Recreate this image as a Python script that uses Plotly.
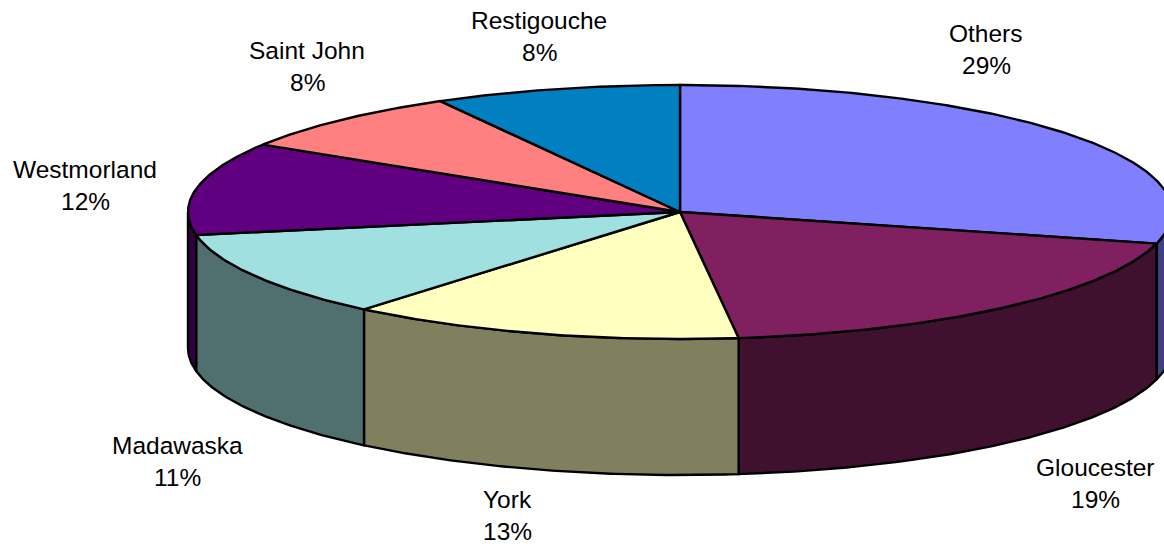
import math
import plotly.graph_objects as go

# Data
regions = ["Others", "Gloucester", "York", "Madawaska", "Westmorland", "Saint John", "Restigouche"]
shares = [29.0, 19.1, 13.0, 11.0, 11.8, 8.0, 8.1]

# Styles
top_colors = ["#8080FF", "#802060", "#FFFFC0", "#A0E0E0", "#600080", "#FF8080", "#0080C0"]
side_colors = ["#40407F", "#40102F", "#80805F", "#50706F", "#300040", "#7F4040", "#004060"]
label_pos = [(986, 33), (1095, 467), (507, 499), (177, 445), (85, 169), (307, 50), (539, 20)]
CX, CY, RX, RY, DEPTH = 680, 212, 492, 127, 136
FONT = dict(family="Liberation Sans, Arial, sans-serif", size=24.5, color="#000000")
LINE = dict(color="#000000", width=2.4)


def rim(t0, t1, dy=0.0):
    n = max(2, int(abs(t1 - t0) * 2) + 2)
    xs, ys = [], []
    for i in range(n):
        t = math.radians(t0 + (t1 - t0) * i / (n - 1))
        xs.append(CX + RX * math.sin(t))
        ys.append(CY - RY * math.cos(t) + dy)
    return xs, ys


total = sum(shares)
spans = []
a = 0.0
for s in shares:
    spans.append((a, a + 360.0 * s / total))
    a += 360.0 * s / total

fig = go.Figure()

# Visible wall of the pie: angles between 90 and 270 degrees
for (t0, t1), col, name in zip(spans, side_colors, regions):
    lo, hi = max(t0, 90), min(t1, 270)
    if hi <= lo:
        continue
    xt, yt = rim(lo, hi)
    xb, yb = rim(hi, lo, DEPTH)
    fig.add_trace(go.Scatter(x=xt + xb + xt[:1], y=yt + yb + yt[:1], mode="lines", fill="toself",
                             fillcolor=col, line=LINE, hoverinfo="skip", name=name + " side"))

# Top face
for (t0, t1), col, name, s in zip(spans, top_colors, regions, shares):
    xr, yr = rim(t0, t1)
    fig.add_trace(go.Scatter(x=[CX] + xr + [CX], y=[CY] + yr + [CY], mode="lines", fill="toself",
                             fillcolor=col, line=LINE, name=name,
                             hovertemplate=f"{name}: {round(s)}%<extra></extra>"))

# Labels: name and percentage
for name, s, (lx, ly) in zip(regions, shares, label_pos):
    for text, yy in ((name, ly), (f"{round(s)}%", ly + 32)):
        fig.add_annotation(x=lx, y=yy, text=text, showarrow=False, font=FONT,
                           xanchor="center", yanchor="middle")

fig.update_layout(
    width=1164, height=547, margin=dict(l=0, r=0, t=0, b=0), showlegend=False,
    paper_bgcolor="#FFFFFF", plot_bgcolor="#FFFFFF",
    xaxis=dict(range=[0, 1164], visible=False, fixedrange=True),
    yaxis=dict(range=[547, 0], visible=False, fixedrange=True),
)
fig.write_html("out.html", config=dict(displayModeBar=False),
               post_script="document.body.style.margin='0';document.documentElement.style.overflow='hidden';")
